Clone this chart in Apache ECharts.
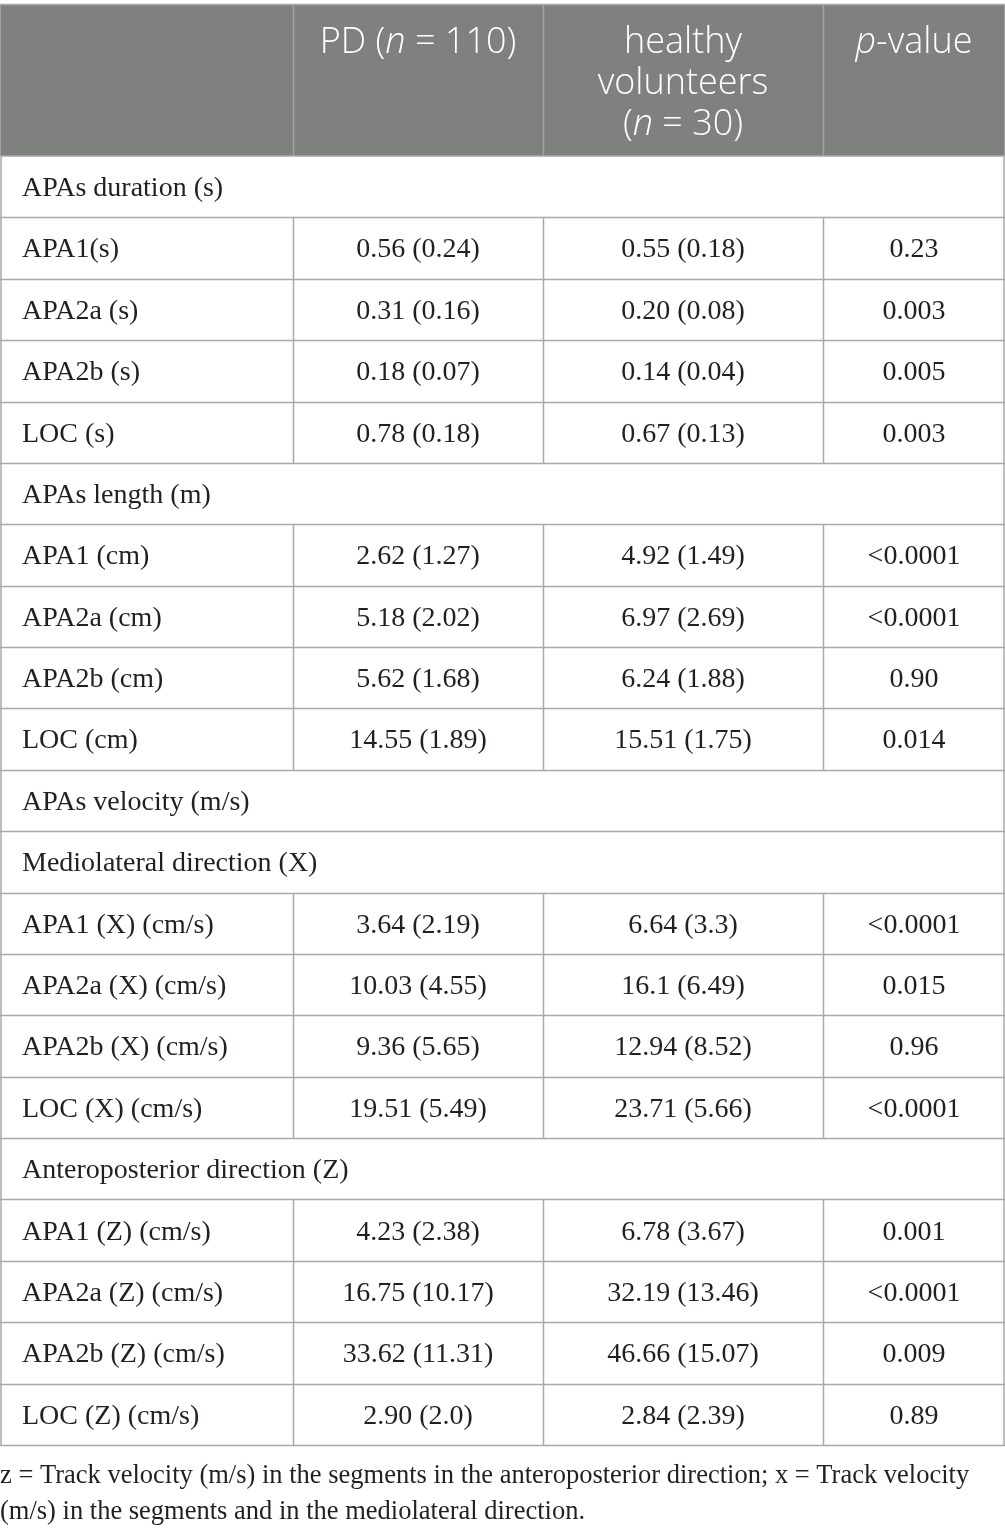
<!DOCTYPE html>
<html>
<head>
<meta charset="utf-8">
<script src="https://cdn.jsdelivr.net/npm/echarts@6/dist/echarts.min.js"></script>
<style>
html, body { margin: 0; padding: 0; background: #fff; }
#main { width: 1005px; height: 1535px; }
</style>
</head>
<body>
<div id="main"></div>
<script>
// table content
let headerTexts = ['PD ({i|n} = 110)', 'healthy\nvolunteers\n({i|n} = 30)', '{i|p}-value'];

let rowLabels = [
    'APAs duration (s)', 'APA1(s)', 'APA2a (s)', 'APA2b (s)', 'LOC (s)',
    'APAs length (m)', 'APA1 (cm)', 'APA2a (cm)', 'APA2b (cm)', 'LOC (cm)',
    'APAs velocity (m/s)', 'Mediolateral direction (X)',
    'APA1 (X) (cm/s)', 'APA2a (X) (cm/s)', 'APA2b (X) (cm/s)', 'LOC (X) (cm/s)',
    'Anteroposterior direction (Z)',
    'APA1 (Z) (cm/s)', 'APA2a (Z) (cm/s)', 'APA2b (Z) (cm/s)', 'LOC (Z) (cm/s)'
];
let pdValues = [
    null, '0.56 (0.24)', '0.31 (0.16)', '0.18 (0.07)', '0.78 (0.18)',
    null, '2.62 (1.27)', '5.18 (2.02)', '5.62 (1.68)', '14.55 (1.89)',
    null, null,
    '3.64 (2.19)', '10.03 (4.55)', '9.36 (5.65)', '19.51 (5.49)',
    null,
    '4.23 (2.38)', '16.75 (10.17)', '33.62 (11.31)', '2.90 (2.0)'
];
let hvValues = [
    null, '0.55 (0.18)', '0.20 (0.08)', '0.14 (0.04)', '0.67 (0.13)',
    null, '4.92 (1.49)', '6.97 (2.69)', '6.24 (1.88)', '15.51 (1.75)',
    null, null,
    '6.64 (3.3)', '16.1 (6.49)', '12.94 (8.52)', '23.71 (5.66)',
    null,
    '6.78 (3.67)', '32.19 (13.46)', '46.66 (15.07)', '2.84 (2.39)'
];
let pValues = [
    null, '0.23', '0.003', '0.005', '0.003',
    null, '<0.0001', '<0.0001', '0.90', '0.014',
    null, null,
    '<0.0001', '0.015', '0.96', '<0.0001',
    null,
    '0.001', '<0.0001', '0.009', '0.89'
];
let footnoteLines = [
    'z = Track velocity (m/s) in the segments in the anteroposterior direction; x = Track velocity',
    '(m/s) in the segments and in the mediolateral direction.'
];

// layout
let colEdges = [0, 293, 543, 823, 1005];
let headerTop = 4.5;
let bodyTop = 156;
let bodyBottom = 1445;
let borderColor = '#a9a9a9';
let headerBg = '#7f817f';
let textColor = '#231f20';
let serif = '"Liberation Serif", "DejaVu Serif", serif';
let sans = '"Open Sans", "Noto Sans", sans-serif';

let myChart = echarts.init(document.getElementById('main'));

function renderRow(params, api) {
    let row = api.value(0);
    let center = api.coord([0, row]);
    let rowH = api.size([0, 1])[1];
    let top = Math.round(center[1] - rowH / 2) + 0.5;
    let bottom = Math.round(center[1] + rowH / 2) + 0.5;
    let xs = colEdges.map(function (e) { return Math.round(api.coord([e, row])[0]); });
    let isSection = pdValues[row] === null;
    let children = [];
    let textY = center[1] + 2;
    let textStyle = { fill: textColor, fontSize: 28, fontFamily: serif, verticalAlign: 'middle' };

    children.push({
        type: 'text',
        style: Object.assign({ text: rowLabels[row], x: xs[0] + 22, y: textY, align: 'left' }, textStyle)
    });
    if (!isSection) {
        [pdValues[row], hvValues[row], pValues[row]].forEach(function (v, k) {
            children.push({
                type: 'text',
                style: Object.assign({ text: v, x: (xs[k + 1] + xs[k + 2]) / 2, y: textY, align: 'center' }, textStyle)
            });
        });
    }
    // borders
    children.push({
        type: 'line',
        shape: { x1: xs[0], y1: bottom, x2: xs[4], y2: bottom },
        style: { stroke: borderColor, lineWidth: 1.5 }
    });
    let vIdx = isSection ? [0, 4] : [0, 1, 2, 3, 4];
    vIdx.forEach(function (k) {
        let x = k === 4 ? xs[k] - 1 : xs[k] + 0.5;
        if (k === 0) x = 1;
        children.push({
            type: 'line',
            shape: { x1: x, y1: top, x2: x, y2: bottom },
            style: { stroke: borderColor, lineWidth: 1.5 }
        });
    });
    return { type: 'group', children: children };
}

let headerGraphics = [
    {
        type: 'rect',
        shape: { x: 0, y: headerTop, width: 1005, height: bodyTop - headerTop },
        style: { fill: headerBg, stroke: borderColor, lineWidth: 1.5 }
    }
];
[1, 2, 3].forEach(function (k) {
    headerGraphics.push({
        type: 'line',
        shape: { x1: colEdges[k] + 0.5, y1: headerTop, x2: colEdges[k] + 0.5, y2: bodyTop },
        style: { stroke: '#a3a5a3', lineWidth: 1.5 }
    });
});
headerTexts.forEach(function (t, k) {
    headerGraphics.push({
        type: 'text',
        x: (colEdges[k + 1] + colEdges[k + 2]) / 2,
        y: 22,
        style: {
            text: t,
            fill: '#fff',
            fontSize: 36,
            fontFamily: sans,
            fontWeight: 300,
            lineHeight: 41,
            align: 'center',
            verticalAlign: 'top',
            rich: {
                i: { fontStyle: 'italic', fontSize: 36, fontFamily: sans, fontWeight: 300, fill: '#fff', lineHeight: 41 }
            }
        }
    });
});
footnoteLines.forEach(function (t, k) {
    headerGraphics.push({
        type: 'text',
        x: 0,
        y: 1476 + k * 36,
        style: { text: t, fill: textColor, fontSize: 26.5, fontFamily: serif, align: 'left', verticalAlign: 'middle' }
    });
});

let option = {
    animation: false,
    grid: { left: 0, right: 0, top: bodyTop, height: bodyBottom - bodyTop },
    xAxis: { type: 'value', min: 0, max: 1005, show: false },
    yAxis: {
        type: 'category',
        inverse: true,
        show: false,
        data: rowLabels.map(function (l, i) { return String(i); })
    },
    graphic: headerGraphics,
    series: [{
        type: 'custom',
        renderItem: renderRow,
        encode: { y: 0 },
        data: rowLabels.map(function (l, i) { return [i]; })
    }]
};
myChart.setOption(option);
</script>
</body>
</html>
